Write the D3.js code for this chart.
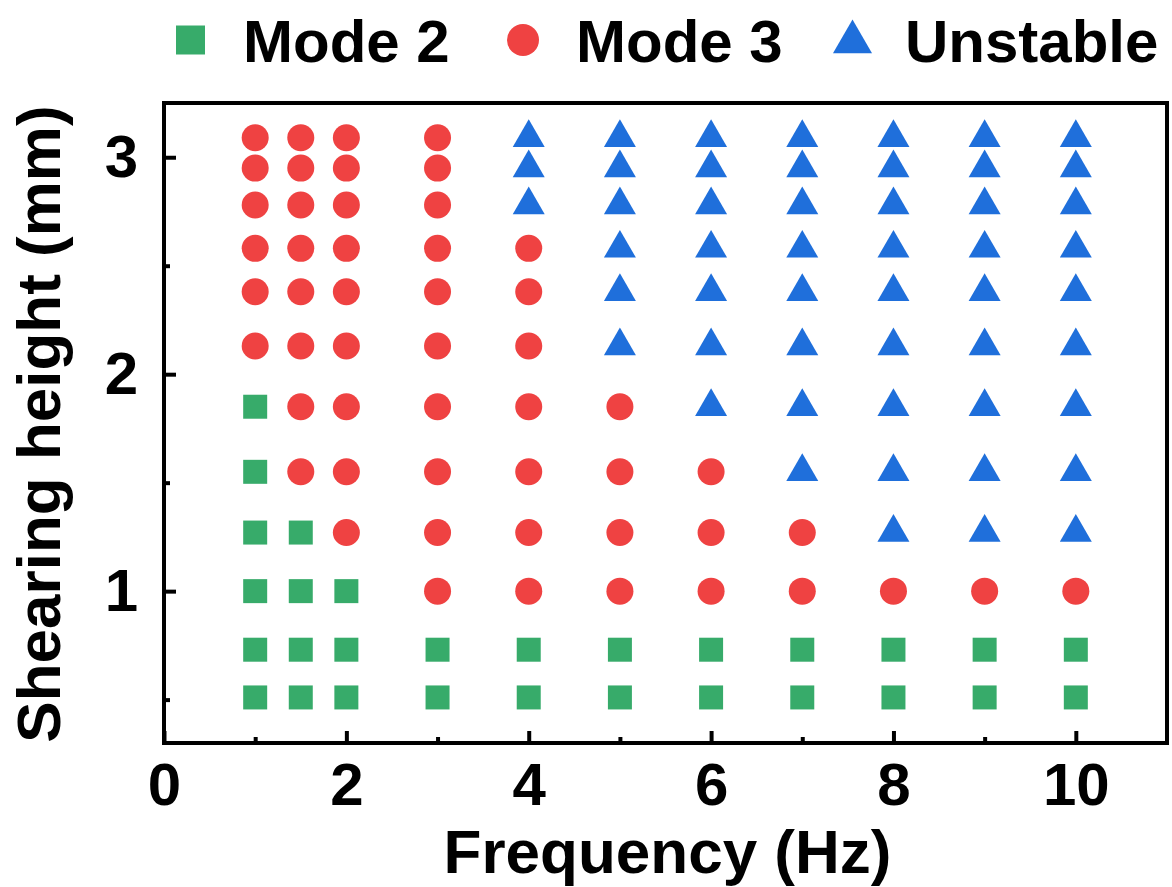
<!DOCTYPE html>
<html>
<head>
<meta charset="utf-8">
<script src="https://cdn.jsdelivr.net/npm/d3@7/dist/d3.min.js"></script>
<style>
  html, body { margin: 0; padding: 0; background: #fff; }
  svg { display: block; }
  text { font-family: Arial, "Liberation Sans", sans-serif; font-weight: bold; fill: #000; }
</style>
</head>
<body>
<svg id="chart" width="1172" height="887"></svg>
<script>
// Regime map: each entry is [frequency (Hz), shearing heights (mm) observed in that regime]
const mode2 = [
  [1,   [1.85, 1.55, 1.27, 1.0, 0.73, 0.51]],
  [1.5, [1.27, 1.0, 0.73, 0.51]],
  [2,   [1.0, 0.73, 0.51]],
  [3,   [0.73, 0.51]],
  [4,   [0.73, 0.51]],
  [5,   [0.73, 0.51]],
  [6,   [0.73, 0.51]],
  [7,   [0.73, 0.51]],
  [8,   [0.73, 0.51]],
  [9,   [0.73, 0.51]],
  [10,  [0.73, 0.51]]
];
const mode3 = [
  [1,   [3.09, 2.95, 2.78, 2.58, 2.38, 2.13]],
  [1.5, [3.09, 2.95, 2.78, 2.58, 2.38, 2.13, 1.85, 1.55]],
  [2,   [3.09, 2.95, 2.78, 2.58, 2.38, 2.13, 1.85, 1.55, 1.27]],
  [3,   [3.09, 2.95, 2.78, 2.58, 2.38, 2.13, 1.85, 1.55, 1.27, 1.0]],
  [4,   [2.58, 2.38, 2.13, 1.85, 1.55, 1.27, 1.0]],
  [5,   [1.85, 1.55, 1.27, 1.0]],
  [6,   [1.55, 1.27, 1.0]],
  [7,   [1.27, 1.0]],
  [8,   [1.0]],
  [9,   [1.0]],
  [10,  [1.0]]
];
const unstable = [
  [4,  [3.09, 2.95, 2.78]],
  [5,  [3.09, 2.95, 2.78, 2.58, 2.38, 2.13]],
  [6,  [3.09, 2.95, 2.78, 2.58, 2.38, 2.13, 1.85]],
  [7,  [3.09, 2.95, 2.78, 2.58, 2.38, 2.13, 1.85, 1.55]],
  [8,  [3.09, 2.95, 2.78, 2.58, 2.38, 2.13, 1.85, 1.55, 1.27]],
  [9,  [3.09, 2.95, 2.78, 2.58, 2.38, 2.13, 1.85, 1.55, 1.27]],
  [10, [3.09, 2.95, 2.78, 2.58, 2.38, 2.13, 1.85, 1.55, 1.27]]
];

const xMajorTicks = [0, 2, 4, 6, 8, 10];
const xMinorTicks = [1, 3, 5, 7, 9];
const yMajorTicks = [1, 2, 3];
const yMinorTicks = [0.5, 1.5, 2.5];

const seriesNames = ["Mode 2", "Mode 3", "Unstable"];
const seriesColors = ["#37ab6a", "#ef4242", "#1f6fdb"];

const svg = d3.select("#chart");
const plot = { left: 164, right: 1167, top: 103, bottom: 743 };

const x = d3.scaleLinear().domain([0, 11]).range([plot.left, plot.right]);
const y = d3.scaleLinear().domain([0.3, 3.25]).range([plot.bottom, plot.top]);

const flatten = cols => cols.flatMap(([f, hs]) => hs.map(h => ({ f, h })));

const series = [
  { name: seriesNames[0], color: seriesColors[0], pts: flatten(mode2),    type: d3.symbolSquare,   size: 576, legendSize: 841 },
  { name: seriesNames[1], color: seriesColors[1], pts: flatten(mode3),    type: d3.symbolCircle,   size: 573, legendSize: 804 },
  { name: seriesNames[2], color: seriesColors[2], pts: flatten(unstable), type: d3.symbolTriangle, size: 443, legendSize: 660 }
];

// Markers
series.forEach(s => {
  svg.append("g")
    .selectAll("path")
    .data(s.pts)
    .join("path")
    .attr("transform", d => `translate(${x(d.f)},${y(d.h)})`)
    .attr("d", d3.symbol().type(s.type).size(s.size))
    .attr("fill", s.color);
});

// Axes with inward ticks
const axisStyle = g => {
  g.select(".domain").remove();
  g.selectAll(".tick line").attr("stroke", "#000").attr("stroke-width", 4);
  g.selectAll(".tick text").style("font-size", "60px").attr("font-weight", "bold");
};

svg.append("g")
  .attr("transform", `translate(0,${plot.bottom})`)
  .call(d3.axisBottom(x).tickValues(xMajorTicks).tickFormat(d3.format("d"))
    .tickSizeInner(-12).tickSizeOuter(0).tickPadding(19))
  .call(axisStyle);

svg.append("g")
  .attr("transform", `translate(0,${plot.bottom})`)
  .call(d3.axisBottom(x).tickValues(xMinorTicks).tickFormat("")
    .tickSizeInner(-6).tickSizeOuter(0))
  .call(axisStyle);

svg.append("g")
  .attr("transform", `translate(${plot.left},0)`)
  .call(d3.axisLeft(y).tickValues(yMajorTicks).tickFormat(d3.format("d"))
    .tickSizeInner(-12).tickSizeOuter(0).tickPadding(26))
  .call(axisStyle);

svg.append("g")
  .attr("transform", `translate(${plot.left},0)`)
  .call(d3.axisLeft(y).tickValues(yMinorTicks).tickFormat("")
    .tickSizeInner(-6).tickSizeOuter(0))
  .call(axisStyle);

// Frame
svg.append("rect")
  .attr("x", plot.left).attr("y", plot.top)
  .attr("width", plot.right - plot.left).attr("height", plot.bottom - plot.top)
  .attr("fill", "none").attr("stroke", "#000").attr("stroke-width", 4);

// Axis titles
svg.append("text")
  .attr("x", (plot.left + plot.right) / 2 + 2)
  .attr("y", 873)
  .attr("text-anchor", "middle")
  .style("font-size", "62px")
  .text("Frequency (Hz)");

svg.append("text")
  .attr("transform", `translate(60,${(plot.top + plot.bottom) / 2 + 1}) rotate(-90)`)
  .attr("text-anchor", "middle")
  .style("font-size", "62px")
  .text("Shearing height (mm)");

// Legend
const legendItems = [
  { s: series[0], mx: 190.5, tx: 243 },
  { s: series[1], mx: 523,   tx: 576 },
  { s: series[2], mx: 852.5, tx: 905 }
];
const legend = svg.append("g");
legendItems.forEach(it => {
  const cy = it.s.type === d3.symbolTriangle ? 42 : 40;
  legend.append("path")
    .attr("transform", `translate(${it.mx},${cy})`)
    .attr("d", d3.symbol().type(it.s.type).size(it.s.legendSize))
    .attr("fill", it.s.color);
  legend.append("text")
    .attr("x", it.tx)
    .attr("y", 62)
    .style("font-size", "60px")
    .text(it.s.name);
});
</script>
</body>
</html>
